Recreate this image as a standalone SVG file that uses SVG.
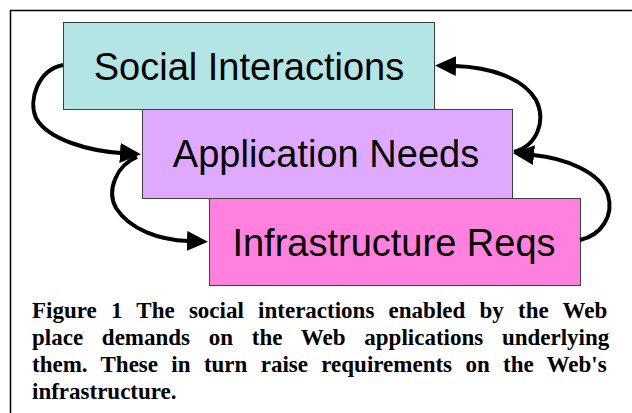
<svg xmlns="http://www.w3.org/2000/svg" width="632" height="413" viewBox="0 0 632 413">
<style>
.box{stroke:#404040;stroke-width:1}
.lbl{font-family:"Liberation Sans",Arial,sans-serif;font-size:38px;fill:#000;text-anchor:middle}
.cap{font-family:"Liberation Serif","Times New Roman",serif;font-size:23px;font-weight:bold;fill:#000}
.arr{fill:none;stroke:#000;stroke-width:4;marker-end:url(#ah)}
</style>
<defs>
<marker id="ah" markerUnits="userSpaceOnUse" markerWidth="22" markerHeight="20" refX="1" refY="10" orient="auto">
<path d="M0,0 L21,10 L0,20 Z" fill="#000"/>
</marker>
</defs>
<rect width="632" height="413" fill="#fff"/>
<path d="M10.5,413 V10.5 H632" fill="none" stroke="#000" stroke-width="1.5"/>
<g id="social">
<rect class="box" x="63.5" y="22.5" width="371" height="87" fill="#b3e5e5"/>
<text class="lbl" x="249" y="80">Social Interactions</text>
</g>
<g id="application">
<rect class="box" x="142.5" y="109.5" width="370" height="89" fill="#dfa9ff"/>
<text class="lbl" x="326" y="167">Application Needs</text>
</g>
<g id="infrastructure">
<rect class="box" x="209.5" y="198.5" width="371" height="87" fill="#ff80dd"/>
<text class="lbl" x="394" y="256">Infrastructure Reqs</text>
</g>
<g id="connectors">
<path class="arr" d="M63,65 C38,70 28,100 36,118 C48,140 90,151 121,153"/>
<path class="arr" d="M137,157 C117,165 106,190 116,208 C130,230 160,240 188,241"/>
<path class="arr" d="M580,240 C602,235 614,215 608,195 C600,172 565,158 533,155"/>
<path class="arr" d="M514,152 C538,145 546,120 536,100 C523,78 490,67 455,66"/>
</g>
<g id="caption">
<text class="cap" x="32" y="318" word-spacing="8.5">Figure 1 The social interactions enabled by the Web</text>
<text class="cap" x="32" y="345" word-spacing="13">place demands on the Web applications underlying</text>
<text class="cap" x="32" y="372" word-spacing="7.6">them. These in turn raise requirements on the Web's</text>
<text class="cap" x="32" y="399">infrastructure.</text>
</g>
</svg>
